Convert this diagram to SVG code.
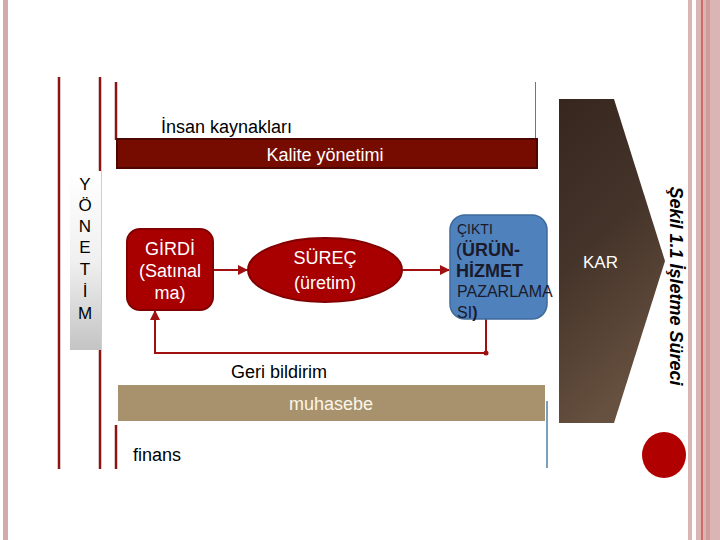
<svg xmlns="http://www.w3.org/2000/svg" width="720" height="540" viewBox="0 0 720 540">
<defs>
<style>
text{font-family:"Liberation Sans",Arial,sans-serif;font-size:18px}
.w{fill:#ffffff}
.k{fill:#000000}
.s14{font-size:14px}
.s16{font-size:16px}
.s17{font-size:17px}
.b{font-weight:bold}
.vl{stroke:#8b1414;stroke-width:2.5;fill:none}
.con{stroke:#a01010;stroke-width:2;fill:none}
.node{fill:#a80000;stroke:#820000;stroke-width:2}
</style>
<linearGradient id="gy" x1="0" y1="0" x2="0" y2="1">
<stop offset="0" stop-color="#ffffff"/>
<stop offset="0.5" stop-color="#f0f0f0"/>
<stop offset="1" stop-color="#c4c4c4"/>
</linearGradient>
<linearGradient id="br" x1="0" y1="0" x2="0.3" y2="1">
<stop offset="0" stop-color="#37261d"/>
<stop offset="0.5" stop-color="#45342a"/>
<stop offset="1" stop-color="#66503f"/>
</linearGradient>
<marker id="ah" viewBox="0 0 10 10" refX="9" refY="5" markerWidth="5" markerHeight="5" orient="auto">
<path d="M0,0 L10,5 L0,10 z" fill="#a01010"/>
</marker>
</defs>
<rect width="720" height="540" fill="#ffffff"/>
<g id="borders">
<rect x="3" y="0" width="5" height="540" fill="#d4aaaa"/>
<rect x="688" y="0" width="4" height="540" fill="#dbb4b4"/>
<rect x="696" y="0" width="24" height="540" fill="#dbb4b4"/>
<rect x="706" y="0" width="4" height="540" fill="#cf9c9c"/>
<line x1="702" y1="0" x2="702" y2="540" stroke="#c02020" stroke-width="1"/>
</g>
<g id="frame">
<line class="vl" x1="59" y1="77" x2="59" y2="469"/>
<line class="vl" x1="100" y1="77" x2="100" y2="469"/>
<line class="vl" x1="116" y1="82" x2="116" y2="140"/>
<line class="vl" x1="116" y1="425" x2="116" y2="469"/>
<line x1="535.5" y1="82" x2="535.5" y2="138" stroke="#4f7fa8" stroke-width="1"/>
<line x1="547" y1="401" x2="547" y2="468" stroke="#4f7fa8" stroke-width="1.5"/>
</g>
<g id="yonetim">
<rect x="70" y="171" width="31" height="179" fill="url(#gy)"/>
<g class="k s17" text-anchor="middle">
<text class="s17" x="85" y="190">Y</text>
<text class="s17" x="85" y="211">Ö</text>
<text class="s17" x="85" y="232">N</text>
<text class="s17" x="85" y="253">E</text>
<text class="s17" x="85" y="275">T</text>
<text class="s17" x="85" y="297">İ</text>
<text class="s17" x="85" y="319">M</text>
</g>
</g>
<g id="insan">
<text class="k" x="161" y="133">İnsan kaynakları</text>
</g>
<g id="kalite">
<rect x="117" y="139" width="420" height="29" fill="#760c00" stroke="#4d0600" stroke-width="2"/>
<text class="w" x="325" y="160.5" text-anchor="middle">Kalite yönetimi</text>
</g>
<g id="kar">
<polygon points="559,99 614,99 665,261 614,423 559,423" fill="url(#br)"/>
<text class="w s17" x="583" y="268">KAR</text>
</g>
<g id="sekil">
<text x="0" y="0" transform="translate(670,286) rotate(90)" text-anchor="middle" font-weight="bold" font-style="italic" fill="#000">Şekil 1.1 İşletme Süreci</text>
</g>
<g id="circle">
<ellipse cx="664" cy="455" rx="22" ry="23" fill="#b00000"/>
</g>
<g id="connectors">
<line class="con" x1="213" y1="270" x2="247" y2="270" marker-end="url(#ah)"/>
<line class="con" x1="403" y1="270" x2="449" y2="270" marker-end="url(#ah)"/>
<polyline class="con" points="486,319 486,353 155,353 155,311" marker-end="url(#ah)"/>
<circle cx="486" cy="353" r="2.5" fill="#a01010"/>
</g>
<g id="girdi">
<rect class="node" x="127" y="229" width="86" height="81" rx="13"/>
<g class="w" text-anchor="middle">
<text x="170" y="255">GİRDİ</text>
<text x="170" y="277">(Satınal</text>
<text x="170" y="299">ma)</text>
</g>
</g>
<g id="surec">
<ellipse class="node" cx="325" cy="270" rx="77" ry="32"/>
<g class="w" text-anchor="middle">
<text x="325" y="264">SÜREÇ</text>
<text x="325" y="289">(üretim)</text>
</g>
</g>
<g id="cikti">
<rect x="450" y="215" width="97" height="104" rx="15" fill="#4f81bd" stroke="#3f6a9c" stroke-width="1.5"/>
<g fill="#1a1a2a">
<text class="s14" x="457" y="234">ÇIKTI</text>
<text x="456" y="256">(<tspan class="b">ÜRÜN-</tspan></text>
<text class="b" x="456" y="277">HİZMET</text>
<text class="s16" x="457" y="297">PAZARLAMA</text>
<text class="s16" x="457" y="318">SI<tspan class="b">)</tspan></text>
</g>
</g>
<g id="geri">
<text class="k" x="279" y="378" text-anchor="middle">Geri bildirim</text>
</g>
<g id="muhasebe">
<rect x="118" y="385" width="427" height="36" fill="#a8926e"/>
<text x="331" y="410" text-anchor="middle" fill="#fbf6e8">muhasebe</text>
</g>
<g id="finans">
<text class="k" x="133" y="461">finans</text>
</g>
</svg>
